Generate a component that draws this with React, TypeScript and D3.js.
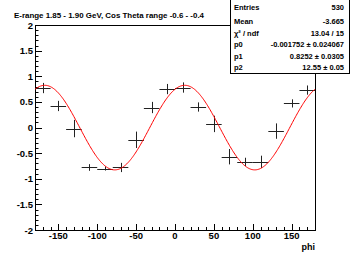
import React from 'react';
import * as d3 from 'd3';

// histogram bins (phi centres), contents and errors
const phiCenters = [-170, -150, -130, -110, -90, -70, -50, -30, -10, 10, 30, 50, 70, 90, 110, 130, 150, 170];
const counts = [0.77, 0.42, -0.02, -0.78, -0.8, -0.78, -0.24, 0.39, 0.75, 0.78, 0.4, 0.07, -0.57, -0.67, -0.67, -0.07, 0.47, 0.73];
const errors = [0.1, 0.1, 0.17, 0.065, 0.04, 0.09, 0.16, 0.11, 0.1, 0.1, 0.09, 0.16, 0.15, 0.08, 0.12, 0.15, 0.08, 0.09];
const binHalfWidth = 10;

// fit parameters p0 + p1*cos(2*(phi - p2))
const p0 = -0.001752;
const p1 = 0.8252;
const p2 = 12.55;

const xTicks = [-150, -100, -50, 0, 50, 100, 150];
const yTicks = [-2, -1.5, -1, -0.5, 0, 0.5, 1, 1.5, 2];

const statLabels = ['Entries', 'Mean', 'χ² / ndf', 'p0', 'p1', 'p2'];
const statValues = ['530', '-3.665', '13.04 / 15', '-0.001752 ± 0.024067', '0.8252 ± 0.0305', '12.55 ± 0.05'];

const title = 'E-range 1.85 - 1.90 GeV, Cos Theta range -0.6 - -0.4';

export default function App() {
    const width = 351;
    const height = 256;
    const frame = { left: 35, right: 315, top: 25, bottom: 230 };
    const font = '"Liberation Sans", Arial, sans-serif';

    const x = d3.scaleLinear().domain([-180, 180]).range([frame.left, frame.right]);
    const y = d3.scaleLinear().domain([-2, 2]).range([frame.bottom, frame.top]);
    const px = (v: number) => Math.round(v) + 0.5;

    const fit = (phi: number) => p0 + p1 * Math.cos((2 * (phi - p2) * Math.PI) / 180);
    const curve = d3.line<number>()
        .x(d => x(d))
        .y(d => y(fit(d)));
    const samples = d3.range(-180, 180.5, 1);

    const xMinor = d3.range(-180, 181, 10);
    const yMinor = d3.range(-20, 21, 1).map(v => v / 10);

    const statRowY = [10, 23.5, 35.5, 47, 58.5, 70];

    return (
        <svg width={width} height={height} style={{ position: 'absolute', left: 0, top: 0, display: 'block', background: '#fff' }}
            fontFamily={font}>
            <rect x={0} y={0} width={width} height={height} fill="#fff" />

            {/* title */}
            <text x={14} y={18} fontSize={8} fontWeight="bold" textLength={190} lengthAdjust="spacingAndGlyphs">{title}</text>

            {/* y axis ticks */}
            {yMinor.map((v, i) => (
                <line key={'ym' + i} x1={frame.left} x2={frame.left + 3.5} y1={px(y(v))} y2={px(y(v))} stroke="#000" />
            ))}
            {yTicks.map(v => (
                <g key={'yt' + v}>
                    <line x1={frame.left} x2={frame.left + 7} y1={px(y(v))} y2={px(y(v))} stroke="#000" />
                    <text x={frame.left - 2} y={y(v) + 3.5} fontSize={9.5} fontWeight="bold" textAnchor="end">{v}</text>
                </g>
            ))}

            {/* x axis ticks */}
            {xMinor.map((v, i) => (
                <line key={'xm' + i} x1={px(x(v))} x2={px(x(v))} y1={frame.bottom} y2={frame.bottom - 3} stroke="#000" />
            ))}
            {xTicks.map(v => (
                <g key={'xt' + v}>
                    <line x1={px(x(v))} x2={px(x(v))} y1={frame.bottom} y2={frame.bottom - 6} stroke="#000" />
                    <text x={x(v)} y={239} fontSize={9.5} fontWeight="bold" textAnchor="middle">{v}</text>
                </g>
            ))}
            <text x={frame.right} y={250} fontSize={9} fontWeight="bold" textAnchor="end">phi</text>

            {/* frame */}
            <rect x={frame.left + 0.5} y={frame.top + 0.5} width={frame.right - frame.left} height={frame.bottom - frame.top}
                fill="none" stroke="#000" />

            {/* data points with errors */}
            {phiCenters.map((phi, i) => (
                <g key={'pt' + i} stroke="#222" strokeWidth={1}>
                    <line x1={x(phi - binHalfWidth)} x2={x(phi + binHalfWidth)} y1={px(y(counts[i]))} y2={px(y(counts[i]))} />
                    <line x1={px(x(phi))} x2={px(x(phi))} y1={y(counts[i] - errors[i])} y2={y(counts[i] + errors[i])} />
                </g>
            ))}

            {/* fit */}
            <path d={curve(samples) || ''} fill="none" stroke="#ff0000" strokeWidth={1} />

            {/* stats box */}
            <rect x={230.5} y={-0.5} width={119} height={74} fill="#fff" stroke="#000" />
            {statLabels.map((s, i) => (
                <g key={'st' + i} fontSize={7.5} fontWeight="bold">
                    <text x={234} y={statRowY[i]}>{s}</text>
                    <text x={344} y={statRowY[i]} textAnchor="end">{statValues[i]}</text>
                </g>
            ))}
        </svg>
    );
}
